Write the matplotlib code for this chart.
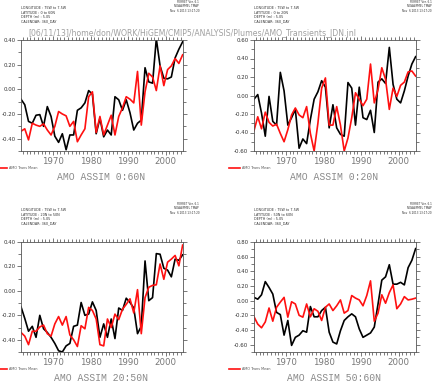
import numpy as np
import matplotlib
matplotlib.use("Agg")
import matplotlib.pyplot as plt
from matplotlib.ticker import MultipleLocator

# ---- data (annual means, 1962-2005, plotted at mid-year) ----
years = np.arange(1962, 2006) - 0.5

assim_0_60 = [-0.08, -0.125, -0.26, -0.275, -0.21, -0.205, -0.30, -0.14, -0.22, -0.38,
              -0.43, -0.36, -0.49, -0.37, -0.37, -0.17, -0.15, -0.11, -0.01, -0.04,
              -0.36, -0.235, -0.385, -0.33, -0.37, -0.06, -0.085, -0.17, -0.085, -0.19,
              -0.33, -0.275, -0.25, 0.175, 0.06, 0.05, 0.41, 0.19, 0.09, 0.085,
              0.10, 0.255, 0.325, 0.385]
trans_0_60 = [-0.34, -0.32, -0.41, -0.275, -0.29, -0.30, -0.28, -0.33, -0.37, -0.30,
              -0.18, -0.20, -0.215, -0.30, -0.26, -0.425, -0.37, -0.32, -0.06, -0.02,
              -0.35, -0.22, -0.37, -0.29, -0.21, -0.37, -0.22, -0.15, -0.06, -0.08,
              -0.11, 0.145, -0.29, -0.02, 0.13, 0.10, -0.01, 0.19, 0.03, 0.16,
              0.19, 0.25, 0.21, 0.28]

assim_0_20 = [-0.04, 0.01, -0.19, -0.44, -0.01, -0.28, -0.32, 0.25, 0.05, -0.32,
              -0.24, -0.15, -0.57, -0.47, -0.52, -0.26, -0.04, 0.04, 0.16, 0.09,
              -0.35, -0.10, -0.35, -0.42, -0.44, 0.14, 0.08, -0.32, 0.09, -0.24,
              -0.26, -0.16, -0.40, 0.145, 0.18, 0.13, 0.52, 0.12, -0.04, -0.08,
              0.05, 0.21, 0.34, 0.42]
trans_0_20 = [-0.38, -0.23, -0.36, -0.18, -0.29, -0.33, -0.31, -0.41, -0.50, -0.37,
              -0.21, -0.135, -0.21, -0.24, -0.12, -0.41, -0.60, -0.30, 0.08, 0.19,
              -0.32, -0.32, -0.12, -0.32, -0.60, -0.46, -0.24, 0.03, -0.04, -0.11,
              -0.04, 0.34, -0.08, 0.065, 0.30, 0.175, -0.15, 0.08, -0.01, 0.11,
              0.145, 0.255, 0.265, 0.21]

assim_20_50 = [-0.13, -0.225, -0.33, -0.29, -0.38, -0.20, -0.31, -0.34, -0.38, -0.43,
               -0.49, -0.50, -0.45, -0.43, -0.29, -0.28, -0.095, -0.20, -0.19, -0.09,
               -0.16, -0.38, -0.27, -0.38, -0.23, -0.39, -0.14, -0.16, -0.06, -0.095,
               -0.14, -0.35, -0.29, 0.245, -0.08, -0.055, 0.305, 0.30, 0.185, 0.17,
               0.115, 0.26, 0.25, 0.295]
trans_20_50 = [-0.34, -0.37, -0.44, -0.33, -0.33, -0.295, -0.28, -0.35, -0.37, -0.27,
               -0.21, -0.28, -0.21, -0.36, -0.40, -0.455, -0.285, -0.31, -0.135, -0.16,
               -0.23, -0.44, -0.45, -0.23, -0.30, -0.19, -0.235, -0.15, -0.11, -0.065,
               -0.18, 0.01, -0.35, -0.055, 0.03, 0.045, 0.05, 0.22, 0.095, 0.235,
               0.26, 0.29, 0.205, 0.375]

assim_50_60 = [0.045, 0.02, 0.08, 0.26, 0.18, 0.09, -0.16, -0.19, -0.47, -0.27,
               -0.61, -0.50, -0.47, -0.41, -0.43, -0.08, -0.22, -0.22, -0.135, -0.09,
               -0.43, -0.565, -0.59, -0.41, -0.27, -0.22, -0.18, -0.22, -0.385, -0.50,
               -0.47, -0.44, -0.36, -0.045, 0.28, 0.325, 0.49, 0.225, 0.225, 0.25,
               0.215, 0.45, 0.55, 0.71]
trans_50_60 = [-0.22, -0.32, -0.37, -0.29, -0.10, -0.28, -0.09, -0.02, 0.045, -0.225,
               -0.015, -0.045, -0.20, -0.225, -0.045, -0.22, -0.11, -0.145, -0.27, -0.09,
               -0.045, -0.135, -0.07, 0.01, -0.17, -0.135, 0.07, 0.035, 0.01, -0.07,
               0.07, 0.27, -0.28, -0.17, 0.08, -0.035, 0.11, 0.215, -0.11, -0.045,
               0.055, 0.01, 0.02, 0.035]

titles = ["AMO ASSIM 0:60N", "AMO ASSIM 0:20N", "AMO ASSIM 20:50N", "AMO ASSIM 50:60N"]
lat_text = ["0 to 60N", "0 to 20N", "20N to 50N", "50N to 60N"]
legend_label = "AMO Trans Mean"
xticks = [1970, 1980, 1990, 2000]
ylims = [(-0.5, 0.4), (-0.6, 0.6), (-0.5, 0.4), (-0.7, 0.8)]
assim = [assim_0_60, assim_0_20, assim_20_50, assim_50_60]
trans = [trans_0_60, trans_0_20, trans_20_50, trans_50_60]

W, H = 433, 382
fig = plt.figure(figsize=(W / 100, H / 100), dpi=100)
fig.patch.set_facecolor("white")

# axes boxes in pixel coords (left, top, right, bottom)
boxes = [(21, 40, 183, 151), (254, 40, 416, 151), (21, 242, 183, 352), (254, 242, 416, 352)]

for k, (l, t, r, b) in enumerate(boxes):
    ax = fig.add_axes([l / W, 1 - b / H, (r - l) / W, (b - t) / H])
    ax.plot(years, assim[k], color="black", lw=1.2)
    ax.plot(years, trans[k], color="#ff1010", lw=1.2)
    ax.set_xlim(1961.5, 2004.6)
    ax.set_ylim(*ylims[k])
    ax.set_xticks(xticks)
    ax.xaxis.set_minor_locator(MultipleLocator(1))
    lo, hi = ylims[k]
    yt = np.arange(np.ceil(lo / 0.2 - 1e-9) * 0.2, hi + 1e-9, 0.2)
    ax.set_yticks(yt)
    ax.set_yticklabels(["%.2f" % v if abs(v) > 1e-9 else "0.00" for v in yt])
    ax.yaxis.set_minor_locator(MultipleLocator(0.1))
    ax.tick_params(axis="both", which="both", direction="out", top=True, right=True,
                   width=0.5, color="#444444")
    ax.tick_params(axis="both", which="major", length=3)
    ax.tick_params(axis="both", which="minor", length=2)
    ax.tick_params(axis="x", labelsize=6.2, labelcolor="#777777", pad=1.5)
    ax.tick_params(axis="y", labelsize=3.9, labelcolor="#333333", pad=1)
    for s in ax.spines.values():
        s.set_linewidth(0.6)
        s.set_color("#555555")

    # header blocks
    fig.text(l / W, 1 - (t - 34) / H,
             "LONGITUDE : 75W to 7.5W\nLATITUDE : %s\nDEPTH (m) : 5.05\nCALENDAR: 360_DAY" % lat_text[k],
             fontsize=2.4, va="top", ha="left", color="#333333", linespacing=1.2)
    fig.text((r + 16) / W, 1 - (t - 40) / H,
             "FERRET Ver. 6.1\nNOAA/PMEL TMAP\nNov  6 2013 13:17:20",
             fontsize=2.0, va="top", ha="right", color="#333333", linespacing=1.1)

    # legend line and label
    ly = b + 17
    fig.lines.append(plt.Line2D([(l - 25) / W, (l - 14) / W], [1 - ly / H, 1 - ly / H],
                                transform=fig.transFigure, color="#ff1010", lw=1.2))
    fig.text((l - 12) / W, 1 - ly / H, legend_label, fontsize=2.4, va="center",
             ha="left", color="#555555")

    # title
    fig.text(((l + r) / 2 - 1) / W, 1 - (b + 26) / H, titles[k], fontsize=7.0,
             family="Liberation Mono", ha="center", va="center", color="#8a8a8a")

fig.text(28 / W, 1 - 34 / H,
         "[06/11/13]/home/don/WORK/HiGEM/CMIP5/ANALYSIS/Plumes/AMO_Transients_JDN.jnl",
         fontsize=5.6, color="#a0a0a0", ha="left", va="center")

fig.savefig("out.png", dpi=100, facecolor="white")
